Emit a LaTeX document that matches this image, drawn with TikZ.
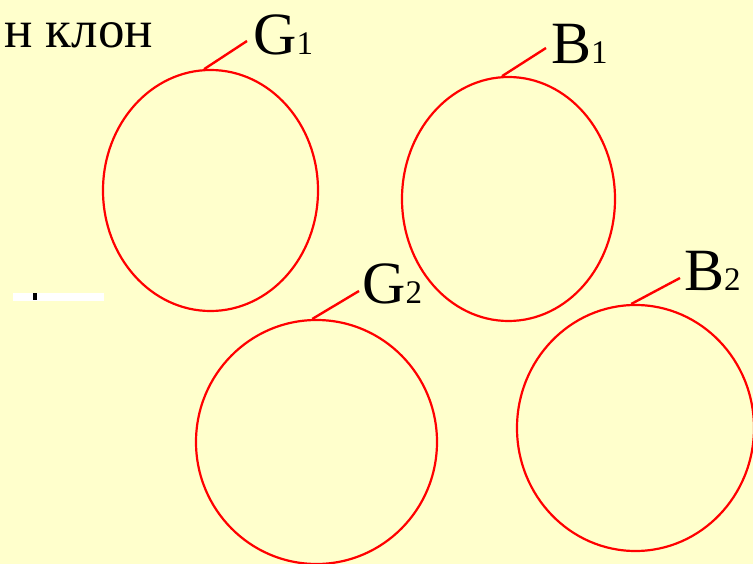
\documentclass[tikz,border=0pt]{standalone}
\usepackage{fontspec}
\setmainfont{Liberation Serif}
\usetikzlibrary{shapes.geometric}
\definecolor{bg}{HTML}{FFFFCC}
\definecolor{rd}{HTML}{FF0000}
\tikzset{
  ring/.style={ellipse, draw=rd, line width=2.2pt, inner sep=0pt},
  leader/.style={draw=rd, line width=2.4pt},
  lbl/.style={anchor=base west, inner sep=0pt, font=\fontsize{60}{60}\selectfont},
}
\newcommand{\sbs}[1]{{\fontsize{33}{33}\selectfont #1}}
\begin{document}
\begin{tikzpicture}[x=1pt,y=-1pt]
\fill[bg] (0,0) rectangle (753,564);
\useasboundingbox (0,0) rectangle (753,564);
% text fragment
\node[anchor=base west, inner sep=0pt, font=\fontsize{53}{53}\selectfont] (txt) at (4,48) {н клон};
% white bar fragment
\fill[white] (13,293) rectangle (104,301);
\fill[black] (33,293) rectangle (37,300);
% rings
\node[ring, minimum width=215pt, minimum height=241pt] (g1) at (210.5,190.5) {};
\node[ring, minimum width=213pt, minimum height=244pt] (b1) at (508.5,199) {};
\node[ring, minimum width=241pt, minimum height=244pt] (g2) at (316.5,442) {};
\node[ring, minimum width=237pt, minimum height=246pt] (b2) at (635.5,428) {};
% labels
\node[lbl] (lg1) at (253,55) {G\sbs{1}};
\node[lbl] (lb1) at (551,64) {B\sbs{1}};
\node[lbl] (lg2) at (362,304) {G\sbs{2}};
\node[lbl] (lb2) at (684,291) {B\sbs{2}};
% leaders
\coordinate (eg1) at (247,41);
\coordinate (eb1) at (546,48);
\coordinate (eg2) at (359,291);
\coordinate (eb2) at (680,278);
\draw[leader] (g1.93) -- (eg1);
\draw[leader] (b1.93) -- (eb1);
\draw[leader] (g2.92) -- (eg2);
\draw[leader] (b2.92) -- (eb2);
\end{tikzpicture}
\end{document}
